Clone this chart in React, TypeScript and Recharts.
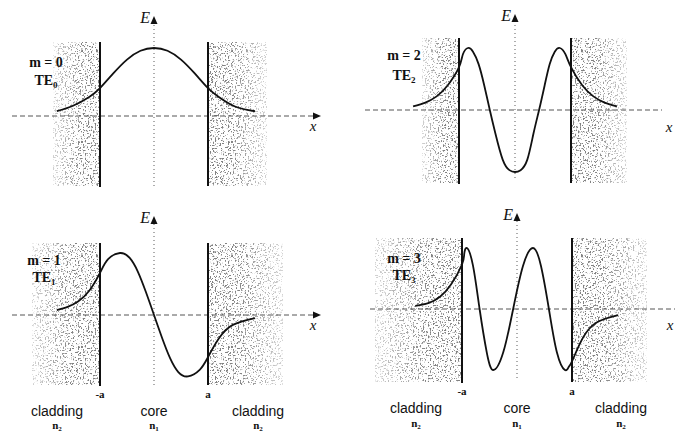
import { LineChart, Line, XAxis, YAxis, ReferenceArea, ReferenceLine, ReferenceDot } from "recharts";

// field profiles: x in units of a, E scaled to the peak
const mode0X = [-1.8, -1.5, -1.2, -1.0, -0.75, -0.5, -0.25, 0, 0.25, 0.5, 0.75, 1.0, 1.2, 1.5, 1.87];
const mode0E = [0.07, 0.15, 0.28, 0.41, 0.63, 0.83, 0.96, 1.0, 0.96, 0.83, 0.63, 0.41, 0.28, 0.14, 0.07];

const mode1X = [-1.8, -1.6, -1.4, -1.2, -1.0, -0.85, -0.63, -0.45, -0.3, -0.15, 0, 0.15, 0.3, 0.45, 0.63, 0.85, 1.0, 1.2, 1.46, 1.87];
const mode1E = [0.08, 0.13, 0.22, 0.39, 0.68, 0.9, 1.0, 0.92, 0.7, 0.37, 0, -0.37, -0.7, -0.92, -0.99, -0.88, -0.68, -0.38, -0.16, -0.05];

const mode2X = [-1.82, -1.6, -1.4, -1.2, -1.0, -0.93, -0.84, -0.75, -0.65, -0.55, -0.45, -0.35, -0.22, -0.1, 0, 0.1, 0.22, 0.33, 0.43, 0.53, 0.62, 0.71, 0.8, 0.9, 1.0, 1.2, 1.4, 1.6, 1.82];
const mode2E = [0.06, 0.12, 0.22, 0.4, 0.69, 0.9, 1.0, 0.94, 0.74, 0.4, 0, -0.38, -0.8, -0.97, -1.0, -0.97, -0.8, -0.38, 0, 0.4, 0.74, 0.94, 1.0, 0.9, 0.69, 0.4, 0.22, 0.12, 0.06];

const mode3X = [-1.85, -1.6, -1.4, -1.2, -1.0, -0.96, -0.91, -0.8, -0.68, -0.55, -0.43, -0.25, -0.07, 0.11, 0.29, 0.435, 0.58, 0.725, 0.87, 0.94, 1.0, 1.2, 1.47, 1.84];
const mode3E = [0.05, 0.1, 0.2, 0.4, 0.73, 0.9, 1.0, 0.71, 0, -0.71, -1.0, -0.71, 0, 0.71, 1.0, 0.71, 0, -0.71, -1.0, -0.95, -0.86, -0.47, -0.21, -0.1];

const regionNames = ["cladding", "core", "cladding"];
const regionIndex = ["2", "1", "2"];
const edgeNames = ["-a", "a"];

type Frame = {
  left: number; top: number; width: number; height: number;
  cx: number; a: number; axisY: number; amp: number;
  shade: [number, number, number, number]; // x0, x1, yTop, yBottom (px)
  eAxis: [number, number];
  xAxis: [number, number];
  arrow: boolean;
  xLabel: [number, number];
  mLabel: [number, number, number];
  bottom?: { edgeY: number; nameY: number; nY: number; centers: number[] };
};

const serif = "Liberation Serif";
const sans = "Liberation Sans";

function Panel({ f, xs, es, m }: { f: Frame; xs: number[]; es: number[]; m: string }) {
  const X = (px: number) => (px - f.cx) / f.a;
  const Y = (py: number) => (f.axisY - py) / f.amp;
  const data = xs.map((x, i) => ({ x, e: es[i] }));
  const xDomain = [X(f.left), X(f.left + f.width)];
  const yDomain = [Y(f.top + f.height), Y(f.top)];
  const [s0, s1, sTop, sBot] = f.shade;

  const txt = (px: number, py: number, render: (x: number, y: number) => any, key: string) => (
    <ReferenceDot key={key} x={X(px)} y={Y(py)} r={0} ifOverflow="visible" shape={(p: any) => render(p.cx, p.cy)} />
  );

  return (
    <div style={{ position: "absolute", left: f.left, top: f.top }}>
      <LineChart width={f.width} height={f.height} data={data} margin={{ top: 0, right: 0, bottom: 0, left: 0 }}>
        <XAxis dataKey="x" type="number" domain={xDomain} hide allowDataOverflow />
        <YAxis type="number" domain={yDomain} hide allowDataOverflow />

        <ReferenceArea x1={X(s0)} x2={-1} y1={Y(sBot)} y2={Y(sTop)} fill="url(#stipple)" fillOpacity={1} ifOverflow="visible" />
        <ReferenceArea x1={X(s0)} x2={-1} y1={Y(sBot)} y2={Y(sTop)} fill="url(#fadeL)" fillOpacity={1} ifOverflow="visible" />
        <ReferenceArea x1={1} x2={X(s1)} y1={Y(sBot)} y2={Y(sTop)} fill="url(#stipple)" fillOpacity={1} ifOverflow="visible" />
        <ReferenceArea x1={1} x2={X(s1)} y1={Y(sBot)} y2={Y(sTop)} fill="url(#fadeR)" fillOpacity={1} ifOverflow="visible" />

        <ReferenceLine segment={[{ x: X(f.xAxis[0]), y: 0 }, { x: X(f.xAxis[1]), y: 0 }]} stroke="#555" strokeDasharray="5 3" strokeWidth={1} ifOverflow="visible" />
        <ReferenceLine segment={[{ x: 0, y: Y(f.eAxis[1]) }, { x: 0, y: Y(f.eAxis[0]) }]} stroke="#777" strokeDasharray="1 3" strokeWidth={1.2} ifOverflow="visible" />
        <ReferenceLine segment={[{ x: -1, y: Y(sBot + 1) }, { x: -1, y: Y(sTop) }]} stroke="#111" strokeWidth={2} ifOverflow="visible" />
        <ReferenceLine segment={[{ x: 1, y: Y(sBot) }, { x: 1, y: Y(sTop) }]} stroke="#111" strokeWidth={2} ifOverflow="visible" />

        <Line type="natural" dataKey="e" stroke="#111" strokeWidth={1.8} dot={false} activeDot={false} isAnimationActive={false} />

        {txt(f.cx, f.eAxis[0] - 4, (x, y) => (
          <g>
            <polygon points={`${x},${y - 4} ${x - 3.5},${y + 4} ${x + 3.5},${y + 4}`} fill="#111" />
            <text x={x - 4} y={y + 3} textAnchor="end" fontFamily={serif} fontStyle="italic" fontSize={16} fill="#111">E</text>
          </g>
        ), "e")}
        {f.arrow && txt(f.xAxis[1] + 4, f.axisY, (x, y) => (
          <polygon points={`${x},${y} ${x - 8},${y - 3.5} ${x - 8},${y + 3.5}`} fill="#111" />
        ), "xa")}
        {txt(f.xLabel[0], f.xLabel[1], (x, y) => (
          <text x={x} y={y} textAnchor="middle" fontFamily={serif} fontStyle="italic" fontSize={15} fill="#111">x</text>
        ), "xl")}
        {txt(f.mLabel[0], f.mLabel[1], (x, y) => (
          <text x={x} y={y} textAnchor="middle" fontFamily={serif} fontWeight="bold" fontSize={14} fill="#111">{`m = ${m}`}</text>
        ), "ml")}
        {txt(f.mLabel[0], f.mLabel[2], (x, y) => (
          <text x={x} y={y} textAnchor="middle" fontFamily={serif} fontWeight="bold" fontSize={14} fill="#111">
            TE<tspan fontSize={9} dy={3}>{m}</tspan>
          </text>
        ), "te")}

        {f.bottom && [f.cx - f.a, f.cx + f.a].map((px, i) =>
          txt(px, f.bottom!.edgeY, (x, y) => (
            <text x={x} y={y} textAnchor="middle" fontFamily={serif} fontWeight="bold" fontSize={11} fill="#111">{edgeNames[i]}</text>
          ), `edge${i}`)
        )}
        {f.bottom && f.bottom.centers.map((px, i) =>
          txt(px, f.bottom!.nameY, (x, y) => (
            <text x={x} y={y} textAnchor="middle" fontFamily={sans} fontSize={14} fill="#111">{regionNames[i]}</text>
          ), `name${i}`)
        )}
        {f.bottom && f.bottom.centers.map((px, i) =>
          txt(px, f.bottom!.nY, (x, y) => (
            <text x={x} y={y} textAnchor="middle" fontFamily={serif} fontWeight="bold" fontSize={11} fill="#111">
              n<tspan fontSize={7} dy={2}>{regionIndex[i]}</tspan>
            </text>
          ), `n${i}`)
        )}
      </LineChart>
    </div>
  );
}

const topLeft: Frame = {
  left: 0, top: 0, width: 335, height: 205, cx: 154, a: 54, axisY: 116, amp: 68,
  shade: [53, 267, 42, 186], eAxis: [24, 186], xAxis: [12, 317], arrow: true,
  xLabel: [313, 131], mLabel: [46, 67, 85],
};
const topRight: Frame = {
  left: 335, top: 0, width: 340, height: 205, cx: 515, a: 56, axisY: 110, amp: 62,
  shade: [422, 627, 38, 183], eAxis: [22, 178], xAxis: [365, 662], arrow: false,
  xLabel: [669, 132], mLabel: [404, 60, 80],
};
const bottomLeft: Frame = {
  left: 0, top: 205, width: 335, height: 231, cx: 154, a: 54, axisY: 315, amp: 62,
  shade: [32, 283, 243, 385], eAxis: [224, 385], xAxis: [12, 317], arrow: true,
  xLabel: [313, 330], mLabel: [44, 265, 282],
  bottom: { edgeY: 398, nameY: 416, nY: 429, centers: [57, 154, 258] },
};
const bottomRight: Frame = {
  left: 335, top: 205, width: 340, height: 231, cx: 517, a: 55, axisY: 309, amp: 61,
  shade: [375, 647, 238, 382], eAxis: [221, 378], xAxis: [370, 675], arrow: false,
  xLabel: [670, 330], mLabel: [404, 263, 280],
  bottom: { edgeY: 395, nameY: 413, nY: 427, centers: [416, 517, 621] },
};

export default function App() {
  return (
    <div style={{ position: "absolute", left: 0, top: 0, width: 675, height: 436, background: "#fff", overflow: "hidden" }}>
      <svg width={0} height={0} style={{ position: "absolute" }}>
        <defs>
          <filter id="speckle" x="0" y="0" width="100%" height="100%">
            <feTurbulence type="fractalNoise" baseFrequency="0.6" numOctaves={2} seed={4} stitchTiles="stitch" />
            <feColorMatrix type="matrix" values="0 0 0 0 0.22  0 0 0 0 0.22  0 0 0 0 0.22  -9 0 0 0 4.0" />
          </filter>
          <pattern id="stipple" patternUnits="userSpaceOnUse" width={150} height={150}>
            <rect width={150} height={150} fill="#fff" filter="url(#speckle)" />
          </pattern>
          <linearGradient id="fadeL" x1="0" x2="1" y1="0" y2="0">
            <stop offset="0" stopColor="#fff" stopOpacity={0.65} />
            <stop offset="0.6" stopColor="#fff" stopOpacity={0} />
          </linearGradient>
          <linearGradient id="fadeR" x1="1" x2="0" y1="0" y2="0">
            <stop offset="0" stopColor="#fff" stopOpacity={0.65} />
            <stop offset="0.6" stopColor="#fff" stopOpacity={0} />
          </linearGradient>
        </defs>
      </svg>
      <Panel f={topLeft} xs={mode0X} es={mode0E} m="0" />
      <Panel f={topRight} xs={mode2X} es={mode2E} m="2" />
      <Panel f={bottomLeft} xs={mode1X} es={mode1E} m="1" />
      <Panel f={bottomRight} xs={mode3X} es={mode3E} m="3" />
    </div>
  );
}
